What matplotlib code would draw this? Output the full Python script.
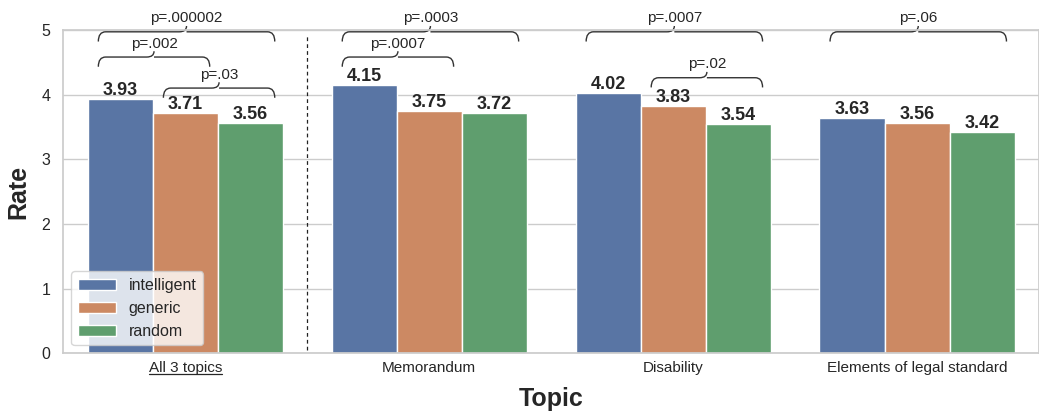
import numpy as np
import seaborn as sns
import matplotlib.pyplot as plt
from matplotlib.path import Path
from matplotlib.patches import PathPatch
from matplotlib.lines import Line2D

topics = ['All 3 topics', 'Memorandum', 'Disability', 'Elements of legal standard']
conditions = ['intelligent', 'generic', 'random']
intelligent = [3.93, 4.15, 4.02, 3.63]
generic = [3.71, 3.75, 3.83, 3.56]
random_ = [3.56, 3.72, 3.54, 3.42]

# (topic index, first bar, last bar, p label)
comparisons = [
    (0, 0, 2, 'p=.000002'),
    (0, 0, 1, 'p=.002'),
    (0, 1, 2, 'p=.03'),
    (1, 0, 2, 'p=.0003'),
    (1, 0, 1, 'p=.0007'),
    (2, 0, 2, 'p=.0007'),
    (2, 1, 2, 'p=.02'),
    (3, 0, 2, 'p=.06'),
]
brace_levels = [4.97, 4.58, 4.10, 4.97, 4.58, 4.97, 4.26, 4.97]

sns.set_theme(style='whitegrid')
plt.rcParams['font.family'] = ['Liberation Sans', 'DejaVu Sans']

colors = [sns.desaturate(c, 0.75) for c in sns.color_palette('deep', 3)]
series = [intelligent, generic, random_]

fig = plt.figure(figsize=(10.39, 4.15), dpi=100)
ax = fig.add_axes([0.061, 0.149, 0.939, 0.779])

x = np.arange(len(topics))
width = 0.8 / 3
offsets = (np.arange(3) - 1) * width
for vals, name, col, off in zip(series, conditions, colors, offsets):
    bars = ax.bar(x + off, vals, width, color=col, edgecolor='white', linewidth=1, label=name)
    for rect, v in zip(bars, vals):
        ax.annotate(f'{v:.2f}', (rect.get_x() + rect.get_width() / 2, v),
                    xytext=(0, 0), textcoords='offset points',
                    ha='center', va='bottom', fontsize=13, fontweight='bold', color='#262626')


def draw_brace(ax, x1, x2, y, label):
    h = 0.15
    r = 0.03
    xm = (x1 + x2) / 2
    verts = [(x1, y - h), (x1, y), (x1 + r, y),
             (xm - r, y), (xm, y), (xm, y + h * 0.6),
             (xm, y), (xm + r, y),
             (x2 - r, y), (x2, y), (x2, y - h)]
    codes = [Path.MOVETO, Path.CURVE3, Path.CURVE3,
             Path.LINETO, Path.CURVE3, Path.CURVE3,
             Path.MOVETO, Path.CURVE3,
             Path.LINETO, Path.CURVE3, Path.CURVE3]
    ax.add_patch(PathPatch(Path(verts, codes), fill=False, lw=1.0,
                           edgecolor='#333333', clip_on=False))
    ax.text(xm, y + 0.1, label, ha='center', va='bottom', fontsize=11,
            color='#262626', clip_on=False)


for (t, i, j, lab), lvl in zip(comparisons, brace_levels):
    draw_brace(ax, x[t] + offsets[i] - 0.09, x[t] + offsets[j] + 0.1, lvl, lab)

ax.axvline(0.5, ymin=0.01, ymax=0.98, color='#222222', linestyle=(0, (3, 2.5)), lw=0.9)

ax.set_xlim(-0.5, 3.5)
ax.set_ylim(0, 5)
ax.set_xticks(x)
ax.set_xticklabels(topics, fontsize=11)
ax.tick_params(axis='x', pad=0)
ax.tick_params(axis='y', labelsize=11.5)
ax.grid(axis='x', visible=False)
ax.set_xlabel('Topic', fontsize=18, fontweight='bold', labelpad=8)
ax.set_ylabel('Rate', fontsize=18, fontweight='bold', labelpad=8)
ax.legend(loc='lower left', fontsize=11.5, framealpha=0.8, handlelength=2.4)

# underline the pooled-topics tick label
fig.canvas.draw()
bb = ax.get_xticklabels()[0].get_window_extent()
inv = fig.transFigure.inverted()
(x0, y0), (x1, _) = inv.transform([(bb.x0, bb.y0 + 1), (bb.x1, bb.y0 + 1)])
fig.add_artist(Line2D([x0, x1], [y0, y0], color='#262626', lw=0.9))

fig.savefig('out.png', dpi=100)
